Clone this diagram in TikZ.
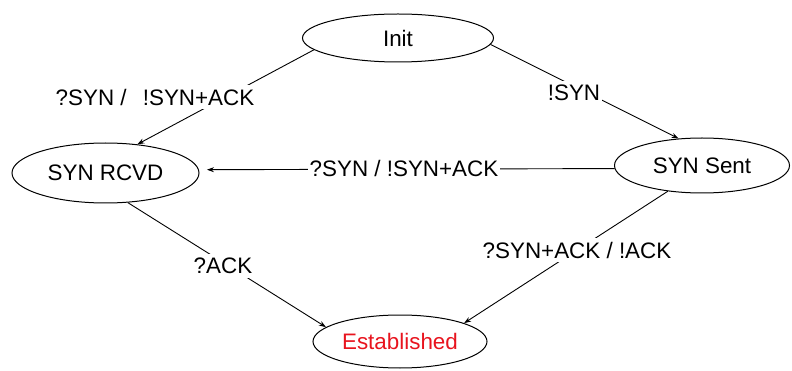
\documentclass[tikz,border=0pt]{standalone}
\usepackage{fontspec}
\setmainfont{Liberation Sans}
\usetikzlibrary{shapes.geometric,arrows.meta}
\definecolor{estred}{RGB}{232,20,30}
\begin{document}
\begin{tikzpicture}[x=1pt,y=-1pt,
  state/.style={ellipse,draw,line width=1pt,inner sep=0pt,font=\fontsize{22.4}{25}\selectfont},
  lbl/.style={fill=white,inner xsep=2pt,inner ysep=4pt,font=\fontsize{22.4}{25}\selectfont},
  arr/.style={line width=0.9pt,-{Stealth[length=7pt,width=5pt]}}]
\useasboundingbox (0,0) rectangle (792,371);
\node[state,minimum width=191pt,minimum height=48pt] (init) at (398,38) {Init};
\node[state,minimum width=187pt,minimum height=60pt] (rcvd) at (105.5,173) {SYN RCVD};
\node[state,minimum width=175pt,minimum height=55pt] (sent) at (702,165.5) {SYN Sent};
\node[state,minimum width=174pt,minimum height=53pt,text=estred] (est) at (400,341.5) {Established};
\draw[arr] (init.188) -- (rcvd.42);
\draw[arr] (init.-4.3) -- (sent.131.3);
\draw[arr,shorten >=8pt] (sent.182.3) -- (rcvd.2.3);
\draw[arr] (rcvd.-53) -- (est.169.3);
\draw[arr] (sent.217) -- (est.16.8);
\node[lbl] (l1) at (155,97) {?SYN /\, \ !SYN+ACK};
\node[lbl] (l2) at (574,93) {!SYN};
\node[lbl] (l3) at (404,168) {?SYN / !SYN+ACK};
\node[lbl] (l4) at (223,266) {?ACK};
\node[lbl] (l5) at (577,250) {?SYN+ACK / !ACK};
\end{tikzpicture}
\end{document}
